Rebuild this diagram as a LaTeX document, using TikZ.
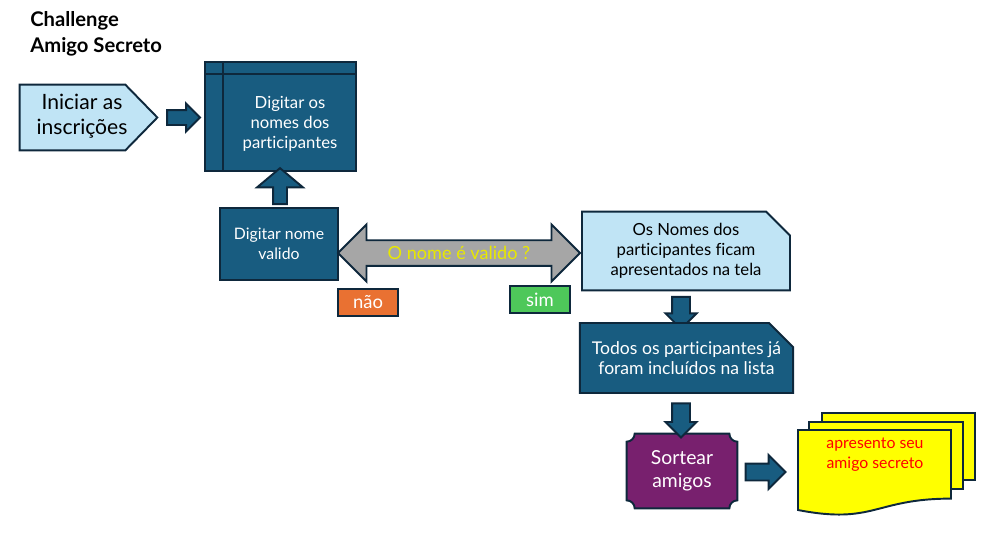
\documentclass[tikz,border=0pt]{standalone}
\usepackage{fontspec}
\setmainfont{Lato}[Ligatures=NoCommon]
\usetikzlibrary{shapes.arrows,shapes.misc,calc,positioning,backgrounds}
\definecolor{caixaazul}{RGB}{24,92,128}
\definecolor{contorno}{RGB}{14,40,60}
\definecolor{azulclaro}{RGB}{192,228,245}
\definecolor{roxo}{RGB}{120,32,110}
\definecolor{cinza}{RGB}{166,166,166}
\definecolor{laranja}{RGB}{233,113,50}
\definecolor{verde}{RGB}{78,200,90}
\definecolor{amarelo}{RGB}{255,255,0}
\definecolor{textoamarelo}{RGB}{232,232,0}

\tikzset{
  linha/.style={draw=contorno, line width=1.1pt},
  caixa/.style={linha, fill=caixaazul, text=white, align=center, inner sep=0pt},
  clara/.style={linha, fill=azulclaro, text=black, align=center, inner sep=0pt},
  recorte/.style={chamfered rectangle, chamfered rectangle corners=north east,
    chamfered rectangle xsep=0.24cm, chamfered rectangle ysep=0.24cm},
  etiqueta/.style={linha, text=white, minimum width=1.2cm, minimum height=0.54cm,
    inner sep=0pt, font=\fontsize{10.5}{12}\selectfont},
  seta/.style={single arrow, linha, fill=caixaazul, inner xsep=0pt},
}

\begin{document}
\begin{tikzpicture}[x=0.02cm,y=-0.02cm]
\useasboundingbox (0,0) rectangle (996,532);

% titulo
\node[anchor=north west, align=left, inner sep=0pt, font=\bfseries\fontsize{11.5}{15}\selectfont] (titulo) at (30,11) {Challenge\\Amigo Secreto};

% inicio e cadastro
\node[minimum width=2.74cm, minimum height=1.3cm, inner sep=0pt] (inicio) at (88.5,117.5) {};
\begin{scope}[on background layer]
\draw[linha, fill=azulclaro] (inicio.north west) -- ($(inicio.north east)+(-32,0)$)
  -- (inicio.east) -- ($(inicio.south east)+(-32,0)$) -- (inicio.south west) -- cycle;
\end{scope}
\node[align=center, font=\fontsize{12}{14}\selectfont] (iniciotexto) at (82,116) {Iniciar as\\inscrições};
\node[caixa, minimum width=3.02cm, minimum height=2.18cm] (nomes) at (280.5,116.5) {};
\draw[linha] ($(nomes.north west)+(0,13)$) -- ($(nomes.north east)+(0,13)$);
\draw[linha] ($(nomes.north west)+(19,0)$) -- ($(nomes.south west)+(19,0)$);
\node[text=white, align=center, font=\fontsize{9.5}{11.3}\selectfont] (nomestexto) at (290,124) {Digitar os\\nomes dos\\participantes};
\node[seta, inner ysep=0.13cm, minimum height=0.66cm, single arrow head extend=0.13cm] (seta1) at ($(inicio.east)+(22.5,0)$) {};

% validacao
\node[caixa, minimum width=2.36cm, minimum height=1.44cm, font=\fontsize{9}{11.3}\selectfont] (valido) at (279,244) {Digitar nome\\valido};
\node[seta, rotate=90, inner ysep=0.12cm, minimum height=0.72cm, single arrow head extend=0.32cm, single arrow tip angle=100] (seta2) at ($(valido.north)+(1,-18)$) {};
\node[double arrow, linha, fill=cinza, minimum height=4.84cm, minimum width=1.14cm, double arrow head extend=0.3cm, inner xsep=0pt, inner ysep=0.09cm, text=textoamarelo, font=\fontsize{10.3}{12}\selectfont] (pergunta) at (459,253) {O nome é valido ?};
\node[etiqueta, fill=laranja] (nao) at (368,302.5) {não};
\node[etiqueta, fill=verde] (sim) at (540,299.5) {sim};

% lista
\node[clara, recorte, minimum width=4.16cm, minimum height=1.44cm, font=\fontsize{9.5}{11.3}\selectfont] (telas) at (686,251) {Os Nomes dos\\participantes ficam\\apresentados na tela};
\node[seta, rotate=-90, inner ysep=0.16cm, minimum height=0.64cm, single arrow head extend=0.13cm] (seta3) at ($(telas.south)+(-5,17)$) {};
\node[caixa, recorte, minimum width=4.14cm, minimum height=1.4cm, font=\fontsize{10}{11.3}\selectfont] (todos) at (686.5,358) {Todos os participantes já\\foram incluídos na lista};
\node[seta, rotate=-90, inner ysep=0.16cm, minimum height=0.68cm, single arrow head extend=0.13cm] (seta4) at ($(todos.south)+(-5.5,22)$) {};

% sorteio
\node[text=white, align=center, minimum width=2.2cm, minimum height=1.48cm, inner sep=0pt, font=\fontsize{11}{13}\selectfont] (sortear) at (682,471) {Sortear\\amigos};
\begin{scope}[on background layer]
\draw[linha, fill=roxo] ($(sortear.north west)+(0cm,-0.16cm)$) arc (270:360:0.16cm)
  -- ($(sortear.north east)+(-0.16cm,0cm)$) arc (180:270:0.16cm)
  -- ($(sortear.south east)+(0cm,0.16cm)$) arc (90:180:0.16cm)
  -- ($(sortear.south west)+(0.16cm,0cm)$) arc (0:90:0.16cm) -- cycle;
\end{scope}
\node[seta, inner ysep=0.15cm, minimum height=0.8cm, single arrow head extend=0.17cm] (seta5) at ($(sortear.east)+(24,1)$) {};

% folhas
\draw[linha, fill=amarelo] (822,413) rectangle (975,480);
\draw[linha, fill=amarelo] (809,422) rectangle (963,489);
\draw[linha, fill=amarelo] (798,430) -- (951,430) -- (951,498.6)
  .. controls (874.5,498.6) and (874.5,524.8) .. (798,510) -- cycle;
\node[text=red, align=center, font=\fontsize{9}{11.3}\selectfont] (folha) at (875,455) {apresento seu\\amigo secreto};
\end{tikzpicture}
\end{document}
